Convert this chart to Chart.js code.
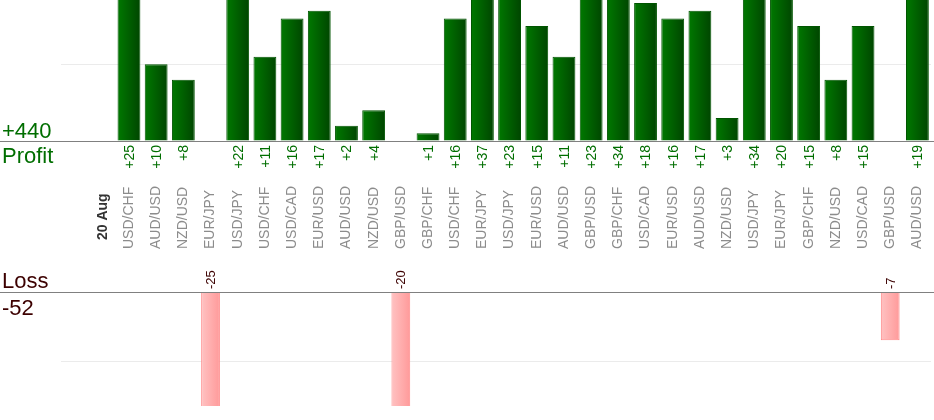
<!DOCTYPE html>
<html>
<head>
<meta charset="utf-8">
<script src="https://cdn.jsdelivr.net/npm/chart.js@4/dist/chart.umd.min.js"></script>
<style>
    html, body { margin: 0; padding: 0; background: #fff; }
    #wrap { position: relative; width: 934px; height: 420px; overflow: hidden; }
    #profitBox { position: absolute; left: 0; top: 0; width: 934px; height: 262px; }
    #lossBox { position: absolute; left: 0; top: 262px; width: 934px; height: 158px; }
</style>
</head>
<body>
<div id="wrap">
    <div id="profitBox"><canvas id="profitChart"></canvas></div>
    <div id="lossBox"><canvas id="lossChart"></canvas></div>
</div>
<script>
// Trades of the day (first slot is an empty spacer, second the date)
const categories = ['', '20 Aug',
    'USD/CHF', 'AUD/USD', 'NZD/USD', 'EUR/JPY', 'USD/JPY', 'USD/CHF', 'USD/CAD', 'EUR/USD',
    'AUD/USD', 'NZD/USD', 'GBP/USD', 'GBP/CHF', 'USD/CHF', 'EUR/JPY', 'USD/JPY', 'EUR/USD',
    'AUD/USD', 'GBP/USD', 'GBP/CHF', 'USD/CAD', 'EUR/USD', 'AUD/USD', 'NZD/USD', 'USD/JPY',
    'EUR/JPY', 'GBP/CHF', 'NZD/USD', 'USD/CAD', 'GBP/USD', 'AUD/USD'];
const dateLabel = '20 Aug';

const profitValues = [null, null,
    25, 10, 8, null, 22, 11, 16, 17,
    2, 4, null, 1, 16, 37, 23, 15,
    11, 23, 34, 18, 16, 17, 3, 34,
    20, 15, 8, 15, null, 19];

const lossValues = [null, null,
    null, null, null, -25, null, null, null, null,
    null, null, -20, null, null, null, null, null,
    null, null, null, null, null, null, null, null,
    null, null, null, null, -7, null];

// Sichtbarer Bereich der Achsen
const profitMax = 18.4;
const lossMin = -16.5;
const gridStep = 10;

const FONT = 'Arial, "Liberation Sans", sans-serif';
const GREEN = '#006e00';
const MAROON = '#3c0000';

const totalProfit = profitValues.reduce((a, b) => a + (b || 0), 0);
const totalLoss = lossValues.reduce((a, b) => a + (b || 0), 0);

function barGradient(ctx, from, to, fallback) {
    const chart = ctx.chart;
    if (!chart.chartArea) return fallback;
    const x = chart.scales.x.getPixelForValue(ctx.dataIndex);
    const g = chart.ctx.createLinearGradient(x - 12, 0, x + 12, 0);
    g.addColorStop(0, from);
    g.addColorStop(1, to);
    return g;
}

// Grundlinie ueber die ganze Breite
function drawBaseline(chart) {
    const c = chart.ctx;
    const y = Math.round(chart.scales.y.getPixelForValue(0)) + 0.5;
    c.save();
    c.strokeStyle = '#808080';
    c.lineWidth = 1;
    c.beginPath();
    c.moveTo(0, y);
    c.lineTo(chart.width, y);
    c.stroke();
    c.restore();
}

function rotatedText(c, text, x, y, align) {
    c.save();
    c.translate(x, y);
    c.rotate(-Math.PI / 2);
    c.textAlign = align;
    c.textBaseline = 'middle';
    c.fillText(text, 0, 0);
    c.restore();
}

const profitLabels = {
    id: 'profitLabels',
    afterDraw(chart) {
        const c = chart.ctx;
        const xs = chart.scales.x;
        drawBaseline(chart);

        c.save();
        // Summe und Titel links
        c.fillStyle = GREEN;
        c.font = '22px ' + FONT;
        c.textAlign = 'left';
        c.textBaseline = 'alphabetic';
        c.fillText('+' + totalProfit, 2, 137.5);
        c.fillText('Profit', 2, 162.5);

        // Werte unter den Balken
        c.font = '14px ' + FONT;
        profitValues.forEach((v, i) => {
            if (v === null) return;
            rotatedText(c, '+' + v, xs.getPixelForValue(i) + 1, 145, 'right');
        });

        // Waehrungspaare
        categories.forEach((label, i) => {
            if (!label) return;
            const x = xs.getPixelForValue(i);
            if (label === dateLabel) {
                c.fillStyle = '#333';
                c.font = 'bold 14px ' + FONT;
                rotatedText(c, label, x + 1, 240, 'left');
            } else {
                c.fillStyle = '#8c8c8c';
                c.font = '14px ' + FONT;
                rotatedText(c, label, x, 249, 'left');
            }
        });
        c.restore();
    }
};

const lossLabels = {
    id: 'lossLabels',
    afterDraw(chart) {
        const c = chart.ctx;
        const xs = chart.scales.x;
        drawBaseline(chart);

        c.save();
        c.fillStyle = MAROON;
        c.font = '22px ' + FONT;
        c.textAlign = 'left';
        c.textBaseline = 'alphabetic';
        c.fillText('Loss', 2, 25.5);
        c.fillText(String(totalLoss), 2, 53);

        c.font = '13px ' + FONT;
        lossValues.forEach((v, i) => {
            if (v === null) return;
            rotatedText(c, String(v), xs.getPixelForValue(i) + 1, 27, 'left');
        });
        c.restore();
    }
};

function baseOptions(yMin, yMax, padding) {
    return {
        responsive: true,
        maintainAspectRatio: false,
        animation: false,
        layout: { padding: padding },
        plugins: {
            legend: { display: false },
            tooltip: { enabled: false }
        },
        scales: {
            x: {
                display: false,
                offset: true
            },
            y: {
                min: yMin,
                max: yMax,
                afterFit: function(scale) { scale.width = 61; },
                ticks: { display: false, stepSize: gridStep, includeBounds: false },
                grid: { color: '#ebebeb', drawTicks: false },
                border: { display: false }
            }
        }
    };
}

new Chart(document.getElementById('profitChart'), {
    type: 'bar',
    data: {
        labels: categories,
        datasets: [{
            data: profitValues,
            backgroundColor: ctx => barGradient(ctx, '#007a00', '#004400', '#006000'),
            borderColor: '#005400',
            borderWidth: 1,
            categoryPercentage: 1,
            barPercentage: 0.84
        }]
    },
    options: baseOptions(0, profitMax, { left: 0, right: 3, top: 0, bottom: 121 }),
    plugins: [profitLabels]
});

new Chart(document.getElementById('lossChart'), {
    type: 'bar',
    data: {
        labels: categories,
        datasets: [{
            data: lossValues,
            backgroundColor: ctx => barGradient(ctx, '#ffc8c8', '#ff9494', '#ffaaaa'),
            borderColor: '#ff8a8a',
            borderWidth: 1,
            categoryPercentage: 1,
            barPercentage: 0.69
        }]
    },
    options: baseOptions(lossMin, 0, { left: 0, right: 3, top: 30, bottom: 14 }),
    plugins: [lossLabels]
});
</script>
</body>
</html>
